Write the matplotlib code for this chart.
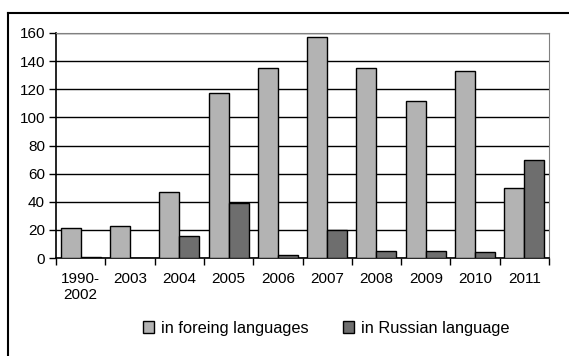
import matplotlib.pyplot as plt
import numpy as np

plt.rcParams['font.family'] = ['Liberation Sans', 'DejaVu Sans']

categories = ['1990-\n2002', '2003', '2004', '2005', '2006', '2007', '2008', '2009', '2010', '2011']
foreign = [21, 23, 47, 117, 135, 157, 135, 112, 133, 50]
russian = [1, 0, 16, 39, 2, 20, 5, 5, 4, 70]

fig = plt.figure(figsize=(5.69, 3.56), dpi=100)
# outer frame (cut off at right and bottom)
fig.add_artist(plt.Line2D([8/569, 8/569], [0, 1 - 13/356], color='black', lw=1.5))
fig.add_artist(plt.Line2D([8/569, 1], [1 - 13/356, 1 - 13/356], color='black', lw=1.5))

ax = fig.add_axes([56/569, 1 - 258/356, (549 - 56)/569, (258 - 33)/356])

x = np.arange(len(categories))
w = 0.405
ax.bar(x - w/2, foreign, w, color='#b3b3b3', edgecolor='black', lw=1, zorder=3,
       label='in foreing languages')
ax.bar(x + w/2, russian, w, color='#6e6e6e', edgecolor='black', lw=1, zorder=3,
       label='in Russian language')

ax.set_xlim(-0.5, len(categories) - 0.5)
ax.set_ylim(0, 160)
ax.set_yticks(range(0, 161, 20))
ax.yaxis.grid(True, color='black', lw=1, zorder=0)

ax.set_xticks(np.arange(-0.5, len(categories)), minor=False)
ax.set_xticklabels([])
ax.set_xticks(x, minor=True)
ax.set_xticklabels(categories, minor=True, fontsize=11)
ax.tick_params(axis='x', which='minor', length=0, pad=10)
ax.tick_params(axis='x', which='major', length=5, width=1, direction='out')
ax.tick_params(axis='y', length=5, width=1, labelsize=11, pad=3)

for s in ['top', 'right']:
    ax.spines[s].set_color('#808080')
for s in ['left', 'bottom']:
    ax.spines[s].set_color('black')
    ax.spines[s].set_linewidth(1.2)

fig.legend(*ax.get_legend_handles_labels(), loc='center left',
           bbox_to_anchor=(128/569, 1 - 328/356), ncol=2, frameon=False,
           fontsize=11.8, handlelength=0.7, handleheight=0.7, handletextpad=0.4,
           columnspacing=2.1)

fig.savefig('out.png', dpi=100)
